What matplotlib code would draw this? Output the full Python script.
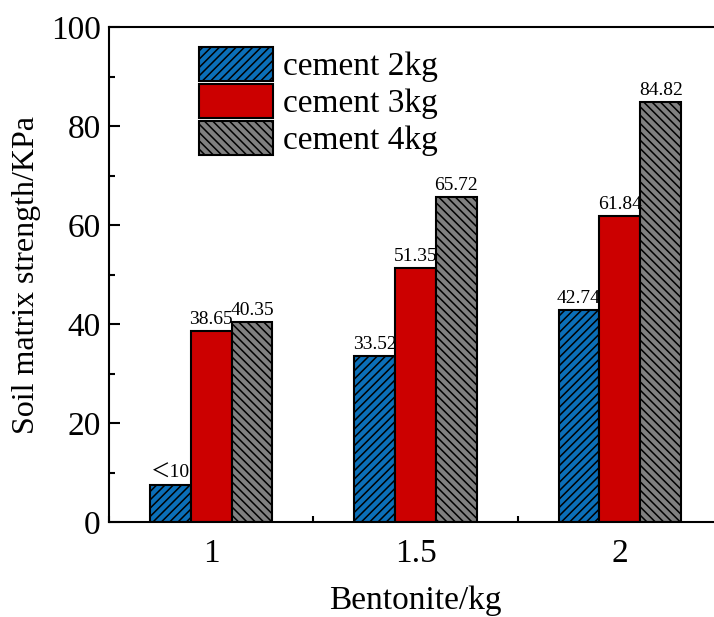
import numpy as np
import matplotlib
matplotlib.use("Agg")
import matplotlib.pyplot as plt
from matplotlib.ticker import MultipleLocator

plt.rcParams['font.family'] = ['Liberation Serif', 'Noto Sans CJK SC']
plt.rcParams['hatch.linewidth'] = 1.1

bentonite = [1, 1.5, 2]
series = ['cement 2kg', 'cement 3kg', 'cement 4kg']
cement2 = [7.5, 33.52, 42.74]
cement3 = [38.65, 51.35, 61.84]
cement4 = [40.35, 65.72, 84.82]
labels2 = ['＜10', '33.52', '42.74']
labels3 = ['38.65', '51.35', '61.84']
labels4 = ['40.35', '65.72', '84.82']

colors = ['#0b6fb8', '#cc0000', '#808080']
hatches = ['////', '', '\\\\\\\\']

fig = plt.figure(figsize=(7.14, 6.17), dpi=100)
ax = fig.add_axes([109 / 714, 1 - 522 / 617, 613 / 714, 495 / 617])

x = np.array(bentonite)
w = 0.1
for i, (vals, labs) in enumerate(zip([cement2, cement3, cement4],
                                     [labels2, labels3, labels4])):
    pos = x + (i - 1) * w
    ax.bar(pos, vals, width=w, color=colors[i], edgecolor='black',
           linewidth=1.5, hatch=hatches[i], label=series[i], zorder=2)
    for p, v, t in zip(pos, vals, labs):
        ax.text(p, v + 0.6, t, ha='center', va='bottom', fontsize=14)

ax.set_xlim(0.75, 2.25)
ax.set_ylim(0, 100)
ax.set_xticks(bentonite)
ax.set_xticklabels(['1', '1.5', '2'])
ax.xaxis.set_minor_locator(MultipleLocator(0.25))
ax.yaxis.set_major_locator(MultipleLocator(20))
ax.yaxis.set_minor_locator(MultipleLocator(10))
ax.tick_params(which='both', direction='in', labelsize=24, width=1.5)
ax.tick_params(which='major', length=8)
ax.tick_params(which='minor', length=4)
ax.tick_params(axis='x', which='major', pad=12)
ax.tick_params(axis='y', which='major', pad=6)
for s in ax.spines.values():
    s.set_linewidth(1.5)

ax.set_xlabel('Bentonite/kg', fontsize=24, labelpad=12)
ax.set_ylabel('Soil matrix strength/KPa', fontsize=23, labelpad=7)

ax.legend(loc='upper left', bbox_to_anchor=(0.115, 1.0), frameon=False,
          fontsize=24, handlelength=2.2, handleheight=1.2,
          labelspacing=0.05, handletextpad=0.3, borderaxespad=0.2)

fig.savefig('out.png', dpi=100)
